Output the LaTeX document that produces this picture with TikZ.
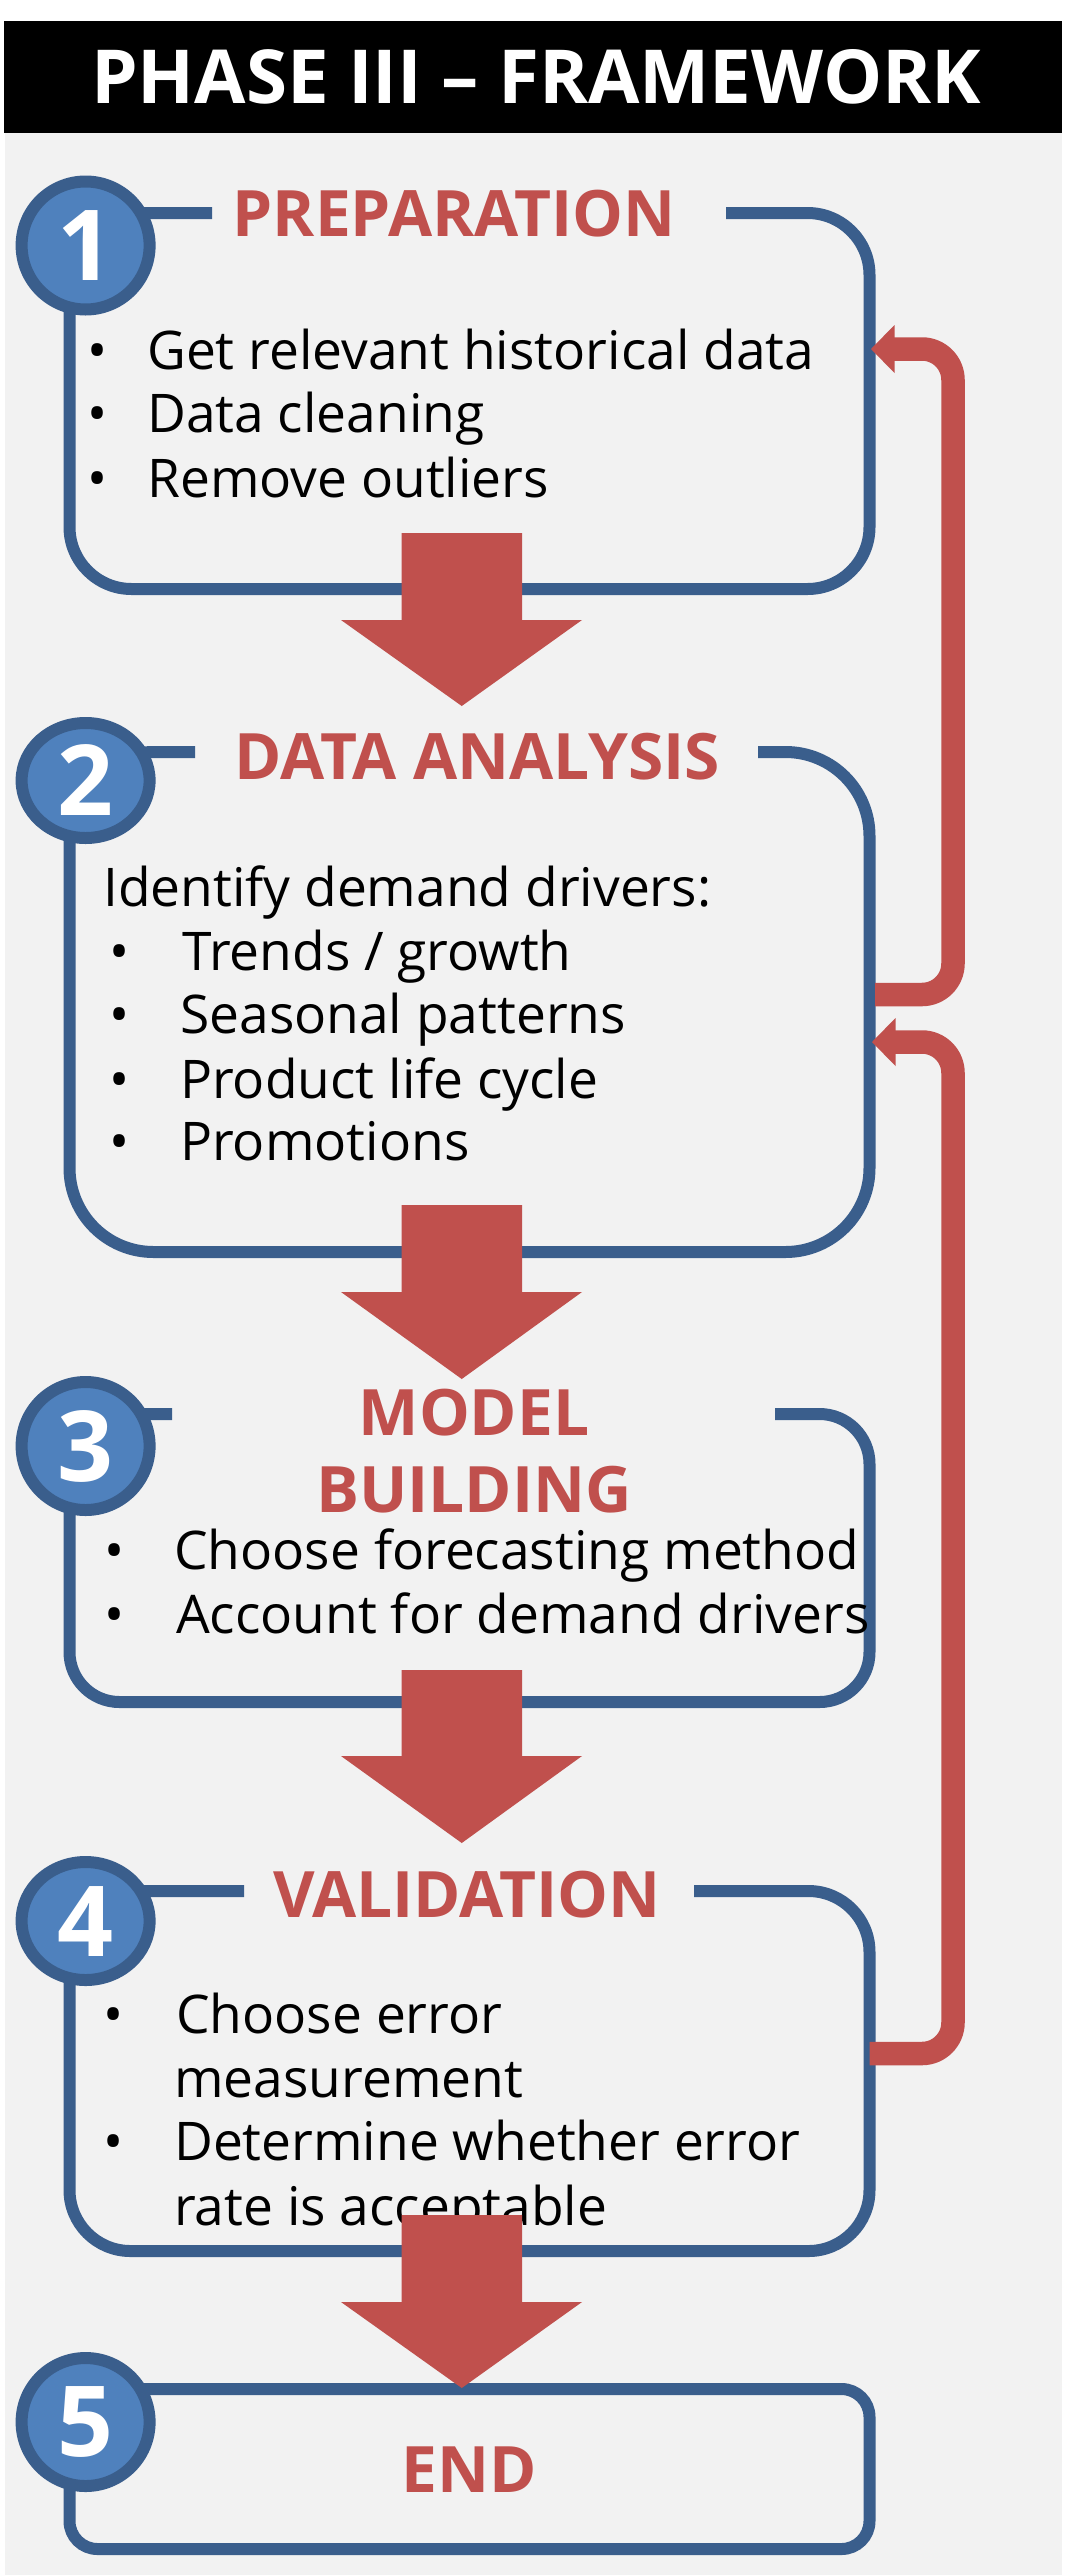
\documentclass[tikz,border=0pt]{standalone}
\usepackage{fontspec}
\setmainfont{Open Sans}
\usetikzlibrary{shapes.geometric}
\definecolor{bluefill}{HTML}{4F81BD}
\definecolor{blueline}{HTML}{3A5E8C}
\definecolor{redc}{HTML}{C0504D}
\definecolor{panelbg}{HTML}{F2F2F2}
\begin{document}
\begin{tikzpicture}[x=1pt,y=-1pt,
  boxline/.style={draw=blueline, line width=12pt},
  numcircle/.style={ellipse, fill=bluefill, draw=blueline, line width=12pt, inner sep=0pt,
     minimum width=128pt, text=white, font=\fontsize{98}{98}\selectfont\bfseries},
  sectitle/.style={text=redc, font=\fontsize{64}{64}\selectfont\bfseries, inner sep=0pt, anchor=base},
  bodytext/.style={font=\fontsize{53.3}{64}\selectfont, inner sep=0pt, anchor=base west},
  bulletdot/.style={font=\fontsize{53.3}{64}\selectfont, inner sep=0pt, anchor=base},
  bigarrow/.style={fill=redc},
  loopline/.style={draw=redc, line width=23.5pt, rounded corners=31pt},
  loophead/.style={fill=redc},
]
\useasboundingbox (0,0) rectangle (1080,2575);
\fill[white] (0,0) rectangle (1080,2575);
\fill[panelbg] (5,133) rectangle (1062,2575);
\fill[black] (4,21) rectangle (1062,133);
\node[font=\fontsize{74.5}{74.5}\selectfont\bfseries, text=white, anchor=base, inner sep=0pt] (title) at (536,103) {PHASE III – FRAMEWORK};

% boxes
\draw[boxline, rounded corners=62pt] (726,213) -- (869.5,213) -- (869.5,589) -- (69.5,589) -- (69.5,213) -- (212,213);
\draw[boxline, rounded corners=84pt] (758,752) -- (869.5,752) -- (869.5,1252) -- (69.5,1252) -- (69.5,752) -- (195,752);
\draw[boxline, rounded corners=50pt] (775,1414) -- (869.5,1414) -- (869.5,1702) -- (69.5,1702) -- (69.5,1414) -- (172,1414);
\draw[boxline, rounded corners=61pt] (694,1891) -- (869.5,1891) -- (869.5,2251) -- (69.5,2251) -- (69.5,1891) -- (244,1891);
\draw[boxline, rounded corners=28pt] (69.5,2389) -- (869.5,2389) -- (869.5,2549) -- (69.5,2549) -- cycle;

% number circles
\node[numcircle, minimum height=128pt] (c1) at (85.6,245.5) {1};
\node[numcircle, minimum height=115pt] (c2) at (85.6,780.5) {2};
\node[numcircle, minimum height=128pt] (c3) at (85.6,1446) {3};
\node[numcircle, minimum height=118pt] (c4) at (85.6,1921) {4};
\node[numcircle, minimum height=128pt] (c5) at (85.6,2422) {5};

% section titles
\node[sectitle] (t1) at (454,236) {PREPARATION};
\node[sectitle] (t2) at (477,779) {DATA ANALYSIS};
\node[sectitle] (t3a) at (474,1435) {MODEL};
\node[sectitle] (t3b) at (474,1512) {BUILDING};
\node[sectitle] (t4) at (467,1917) {VALIDATION};
\node[sectitle] (t5) at (469,2492) {END};

% box 1 text
\node[bulletdot] (b1d1) at (98,369) {•};
\node[bulletdot] (b1d2) at (98,432) {•};
\node[bulletdot] (b1d3) at (98,497) {•};
\node[bodytext] (b1l1) at (147,369) {Get relevant historical data};
\node[bodytext] (b1l2) at (147,432) {Data cleaning};
\node[bodytext] (b1l3) at (147,497) {Remove outliers};

% box 2 text
\node[bodytext] (b2l0) at (103,906) {Identify demand drivers:};
\node[bulletdot] (b2d1) at (119.5,970) {•};
\node[bulletdot] (b2d2) at (119.5,1033) {•};
\node[bulletdot] (b2d3) at (119.5,1098) {•};
\node[bulletdot] (b2d4) at (119.5,1160) {•};
\node[bodytext] (b2l1) at (182,970) {Trends / growth};
\node[bodytext] (b2l2) at (180,1033) {Seasonal patterns};
\node[bodytext] (b2l3) at (180,1098) {Product life cycle};
\node[bodytext] (b2l4) at (180,1160) {Promotions};

% box 3 text
\node[bulletdot] (b3d1) at (115,1569) {•};
\node[bulletdot] (b3d2) at (115,1633) {•};
\node[bodytext] (b3l1) at (174,1569) {Choose forecasting method};
\node[bodytext] (b3l2) at (176,1633) {Account for demand drivers};

% box 4 text
\node[bulletdot] (b4d1) at (114,2033) {•};
\node[bulletdot] (b4d2) at (114,2160) {•};
\node[bodytext] (b4l1) at (176,2033) {Choose error};
\node[bodytext] (b4l2) at (174,2097) {measurement};
\node[bodytext] (b4l3) at (174,2160) {Determine whether error};
\node[bodytext] (b4l4) at (174,2225) {rate is acceptable};

% big down arrows
\foreach \top/\base/\tip in {533/620/706, 1205/1292/1379, 1670/1756/1843, 2215/2302/2388}{
  \fill[bigarrow] (401.5,\top) -- (522,\top) -- (522,\base) -- (582,\base) -- (461.75,\tip)
     -- (341,\base) -- (401.5,\base) -- cycle;
}

% feedback loops
\coordinate (fa0) at (875,994.5);
\coordinate (fa1) at (953,994.5);
\coordinate (fa2) at (953,349);
\coordinate (fa3) at (892,349);
\draw[loopline] (fa0) -- (fa1) -- (fa2) -- (fa3);
\fill[loophead] (871,349) -- (894.5,325) -- (894.5,373) -- cycle;

\coordinate (fb0) at (869.5,2053.5);
\coordinate (fb1) at (953,2053.5);
\coordinate (fb2) at (953,1042);
\coordinate (fb3) at (892,1042);
\draw[loopline] (fb0) -- (fb1) -- (fb2) -- (fb3);
\fill[loophead] (872,1042) -- (895.5,1018) -- (895.5,1066) -- cycle;
\end{tikzpicture}
\end{document}
